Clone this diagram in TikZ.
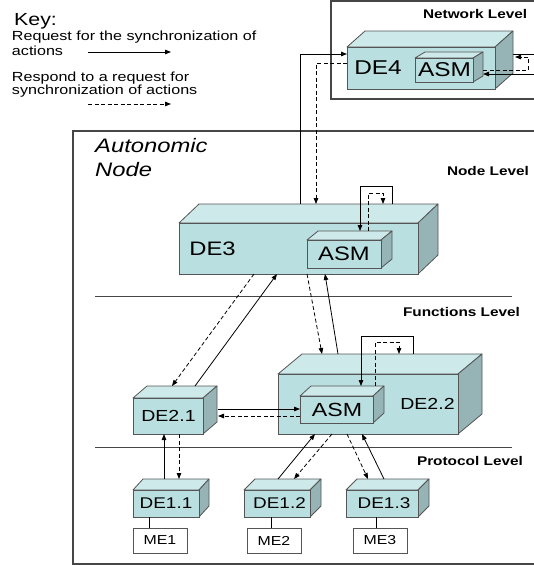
\documentclass[tikz,border=0pt]{standalone}
\usepackage{fontspec}
\setmainfont{Liberation Sans}[FakeStretch=1.22]
\usetikzlibrary{arrows.meta,calc,fit}

\definecolor{facefront}{RGB}{185,223,224}
\definecolor{facetop}{RGB}{205,233,234}
\definecolor{faceside}{RGB}{150,180,181}
\definecolor{edge}{RGB}{85,85,85}
\definecolor{linegray}{RGB}{70,70,70}

\newcommand\txtsize[1]{\fontsize{#1}{#1}\selectfont}

% 3-D box: name, front face corners (x1,y1) (x2,y2), depth dx, dy
\newcommand\cubebox[7]{%
  \path[cubetop] (#2,#3) -- (#2+#6,#3-#7) -- (#4+#6,#3-#7) -- (#4,#3) -- cycle;
  \path[cubeside] (#4,#3) -- (#4+#6,#3-#7) -- (#4+#6,#5-#7) -- (#4,#5) -- cycle;
  \node[cubefront, fit={(#2,#3) (#4,#5)}] (#1) {};
}

\tikzset{
  cubefront/.style={draw=edge, fill=facefront, line width=0.8pt, inner sep=0pt, outer sep=0pt},
  cubetop/.style={draw=edge, fill=facetop, line width=0.8pt, line join=round},
  cubeside/.style={draw=edge, fill=faceside, line width=0.8pt, line join=round},
  req/.style={draw=black, line width=0.8pt, -{Triangle[length=6pt,width=4.5pt]}},
  resp/.style={req, dash pattern=on 4pt off 2.5pt},
  plainline/.style={draw=black, line width=0.8pt},
  level/.style={draw=linegray, line width=1pt},
  frame/.style={draw=linegray, line width=1.2pt},
  mebox/.style={draw=edge, fill=white, line width=0.8pt, inner sep=0pt, outer sep=0pt,
    minimum width=54pt, minimum height=25pt, font=\txtsize{13}},
  txt/.style={inner sep=0pt, outer sep=0pt, anchor=center},
  keytxt/.style={inner sep=0pt, outer sep=0pt, anchor=base west, font=\txtsize{13.2}},
  leveltxt/.style={inner sep=0pt, outer sep=0pt, anchor=base west, font=\bfseries\txtsize{12.6}},
}

\begin{document}
\begin{tikzpicture}[x=1pt, y=-1pt]
\useasboundingbox (0,0) rectangle (533,565);
\fill[white] (0,0) rectangle (533,565);

% key
\node[inner sep=0pt, anchor=base west, font=\txtsize{17.5}] (key) at (14,25) {Key:};
\node[keytxt] (req1) at (12,40.7) {Request for the synchronization of};
\node[keytxt] (req2) at (12,55) {actions};
\node[keytxt] (resp1) at (12,81.7) {Respond to a request for};
\node[keytxt] (resp2) at (12,94) {synchronization of actions};
\coordinate (ka) at (88,52);
\coordinate (kb) at (171,52);
\coordinate (kc) at (88,104);
\coordinate (kd) at (171,104);
\draw[req] (ka) -- (kb);
\draw[resp] (kc) -- (kd);

% frames and level separators
\draw[frame] (331,1) rectangle (545,99);
\draw[frame] (73,131) rectangle (545,564);
\draw[level] (95,296) -- (512,296);
\draw[level] (95,447) -- (512,447);

\node[leveltxt] (netlevel) at (423,18.5) {Network Level};
\node[leveltxt] (nodelevel) at (447,175) {Node Level};
\node[leveltxt] (funclevel) at (403,316.7) {Functions Level};
\node[leveltxt] (protolevel) at (417,465) {Protocol Level};
\node[inner sep=0pt, anchor=base west, font=\itshape\txtsize{19.5}] (an1) at (95,152.7) {Autonomic};
\node[inner sep=0pt, anchor=base west, font=\itshape\txtsize{19.5}] (an2) at (95,176.7) {Node};

% decision elements
\cubebox{de4}{347}{47}{495}{89}{18}{16}
\cubebox{asm4}{415}{58}{473}{82}{10}{6}
\cubebox{de3}{179}{223}{418}{274}{20}{19}
\cubebox{asm3}{307}{240}{381}{268}{11}{9}
\cubebox{de21}{133}{398}{203}{434}{14}{12}
\cubebox{de22}{278}{374}{458}{434}{24}{20}
\cubebox{asm2}{300}{396}{373}{423}{11}{10}
\cubebox{de11}{133}{490}{199}{517}{10}{11}
\cubebox{de12}{244}{490}{310}{517}{11}{11}
\cubebox{de13}{346}{490}{418}{517}{11}{11}

\node[txt, font=\txtsize{20}] (l-de4) at (378,68) {DE4};
\node[txt, font=\txtsize{20}] (l-asm4) at (444.5,70) {ASM};
\node[txt, font=\txtsize{19.5}] (l-de3) at (212.5,248.5) {DE3};
\node[txt, font=\txtsize{19.5}] (l-asm3) at (344,254) {ASM};
\node[txt, font=\txtsize{16}] (l-de21) at (168.5,416) {DE2.1};
\node[txt, font=\txtsize{16}] (l-de22) at (427.5,404) {DE2.2};
\node[txt, font=\txtsize{19}] (l-asm2) at (337,409.5) {ASM};
\node[txt, font=\txtsize{15.5}] (l-de11) at (166,503.5) {DE1.1};
\node[txt, font=\txtsize{15.5}] (l-de12) at (279.5,503.5) {DE1.2};
\node[txt, font=\txtsize{15.5}] (l-de13) at (384,503.5) {DE1.3};

% managed entities
\node[mebox] (me1) at (160,540.5) {ME1};
\node[mebox] (me2) at (274,540.5) {ME2};
\node[mebox] (me3) at (380,540.5) {ME3};

% DE3 <-> DE4
\draw[req] ($(de3.north west)+(121,-19)$) |- ($(de4.north west)+(0,7)$);
\draw[resp] ($(de4.north west)+(0,16)$) -| ($(de3.north west)+(137,-19)$);
% DE4 <-> its ASM
\draw[req] ($(de4.north east)+(18,7)$) -- ++(27,0) |- ($(asm4.north east)+(10,16)$);
\draw[resp] ($(asm4.north east)+(10,12)$) -- ++(45,0) |- ($(de4.north east)+(20,10)$);
% DE3 <-> its ASM
\draw[req] ($(de3.north west)+(213,-19)$) -- ++(0,-18) -| ($(asm3.north west)+(53,-9)$);
\draw[resp] ($(asm3.north west)+(61,-9)$) -- ++(0,-38) -| ($(de3.north west)+(204,-19)$);
% DE3 <-> DE2.1, DE2.2
\draw[resp] ($(de3.south west)+(75,0)$) -- ($(de21.north west)+(39,-12)$);
\draw[req] ($(de21.north west)+(62,-12)$) -- ($(de3.south west)+(98,0)$);
\draw[resp] ($(de3.south west)+(128,0)$) -- ($(de22.north west)+(44,-20)$);
\draw[req] ($(de22.north west)+(60,-20)$) -- ($(de3.south west)+(146,0)$);
% DE2.2 <-> its ASM
\draw[req] ($(de22.north west)+(135,-20)$) -- ++(0,-18) -| ($(asm2.north west)+(61,-10)$);
\draw[resp] ($(asm2.north west)+(75,-10)$) -- ++(0,-44) -| ($(de22.north west)+(121,-20)$);
% DE2.1 <-> ASM of DE2.2
\draw[req] ($(de21.north east)+(15,11)$) -- ($(asm2.north west)+(0,13)$);
\draw[resp] ($(asm2.north west)+(0,20)$) -- ($(de21.north east)+(15,18)$);
% DE2.x <-> DE1.x
\draw[req] ($(de11.north west)+(31,-11)$) -- ($(de21.south west)+(31,0)$);
\draw[resp] ($(de21.south west)+(46,0)$) -- ($(de11.north west)+(46,-11)$);
\draw[req] ($(de12.north west)+(34,-11)$) -- ($(de22.south west)+(37,0)$);
\draw[resp] ($(de22.south west)+(54,0)$) -- ($(de12.north west)+(50,-11)$);
\draw[resp] ($(de22.south west)+(69,0)$) -- ($(de13.north west)+(22,-11)$);
\draw[req] ($(de13.north west)+(38,-11)$) -- ($(de22.south west)+(84,0)$);
% DE1.x -- ME
\draw[plainline] ($(de11.south west)+(16,0)$) -- ($(me1.north west)+(16,0)$);
\draw[plainline] ($(de12.south west)+(27,0)$) -- ($(me2.north west)+(24,0)$);
\draw[plainline] ($(de13.south west)+(30,0)$) -- ($(me3.north west)+(23,0)$);
\end{tikzpicture}
\end{document}
